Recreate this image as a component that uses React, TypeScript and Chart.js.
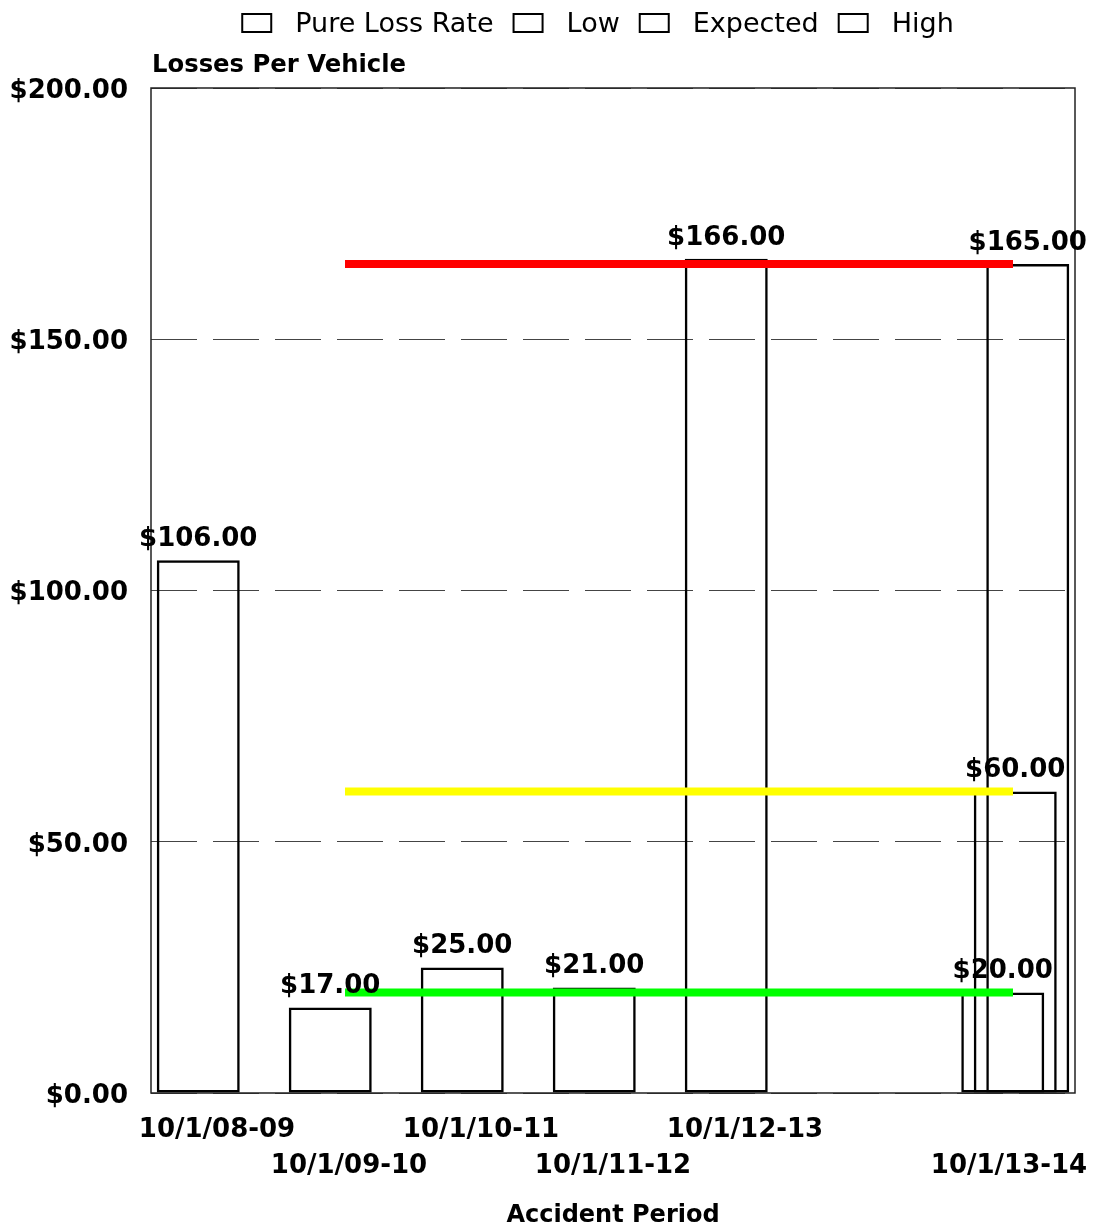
import React, { useEffect, useRef } from 'react';
import { Chart, registerables } from 'chart.js';

Chart.register(...registerables);

// ---- data ----
const categories = ['10/1/08-09', '10/1/09-10', '10/1/10-11', '10/1/11-12', '10/1/12-13', '', '10/1/13-14'];
const pureLossRate = [106, 17, 25, 21, 166, null, null];
const lowValues = [null, null, null, null, null, null, 20];
const expectedValues = [null, null, null, null, null, null, 60];
const highValues = [null, null, null, null, null, null, 165];
const yTickValues = [0, 50, 100, 150, 200];
const referenceFrom = '10/1/09-10';
const referenceTo = '10/1/13-14';
const chartTitle = 'Losses Per Vehicle';
const xTitle = 'Accident Period';

const lastValue = (arr: (number | null)[]) => arr.filter((v) => v !== null).slice(-1)[0] as number;

const money = (v: number) => '$' + v.toFixed(2);

const FONT = "'DejaVu Sans', sans-serif";

const refLine = (label: string, level: number, color: string) => ({
  type: 'line' as const,
  label,
  data: [
    { x: referenceFrom, y: level },
    { x: referenceTo, y: level },
  ],
  borderColor: color,
  backgroundColor: color,
  borderWidth: 8,
  borderCapStyle: 'square' as const,
  pointRadius: 0,
  spanGaps: true,
  order: 0,
});

const barSet = (label: string, data: (number | null)[]) => ({
  type: 'bar' as const,
  label,
  data,
  backgroundColor: 'rgba(0,0,0,0)',
  borderColor: '#000',
  borderWidth: 2.5,
  borderSkipped: false,
  categoryPercentage: 50 / 132,
  barPercentage: 6.64,
  order: 1,
});

const framePlugin = {
  id: 'frame',
  beforeDatasetsDraw(chart: any) {
    const { ctx, chartArea } = chart;
    ctx.save();
    ctx.strokeStyle = '#222';
    ctx.lineWidth = 1.5;
    ctx.strokeRect(chartArea.left, chartArea.top, chartArea.right - chartArea.left, chartArea.bottom - chartArea.top);
    ctx.restore();
  },
};

const labelPlugin = {
  id: 'barLabels',
  afterDatasetsDraw(chart: any) {
    const ctx = chart.ctx;
    ctx.save();
    ctx.font = `bold 26px ${FONT}`;
    ctx.fillStyle = '#000';
    ctx.textAlign = 'center';
    ctx.textBaseline = 'middle';
    chart.data.datasets.forEach((ds: any, di: number) => {
      if (ds.type !== 'bar') return;
      const meta = chart.getDatasetMeta(di);
      ds.data.forEach((v: number | null, i: number) => {
        if (v === null || v === undefined) return;
        const el = meta.data[i];
        ctx.fillText(money(v), el.x, el.y - 21);
      });
    });
    ctx.restore();
  },
};

const headerPlugin = {
  id: 'header',
  afterDraw(chart: any) {
    const { ctx, chartArea } = chart;
    ctx.save();
    // title
    ctx.font = `bold 24.3px ${FONT}`;
    ctx.fillStyle = '#000';
    ctx.textAlign = 'left';
    ctx.textBaseline = 'middle';
    ctx.fillText(chartTitle, chartArea.left + 1, 58);
    // legend
    ctx.font = `27px ${FONT}`;
    const labels = chart.data.datasets.filter((d: any) => d.type === 'bar').map((d: any) => d.label);
    const boxW = 29;
    const boxH = 18;
    const boxGap = 24;
    const itemGap = 20;
    const widths = labels.map((t: string) => ctx.measureText(t).width);
    const total = widths.reduce((a: number, w: number) => a + boxW + boxGap + w, 0) + itemGap * (labels.length - 1);
    const cx = (chartArea.left + chartArea.right) / 2 - 15;
    let x = cx - total / 2;
    const cy = 15;
    ctx.strokeStyle = '#000';
    ctx.lineWidth = 2;
    labels.forEach((t: string, i: number) => {
      ctx.strokeRect(x, cy - boxH / 2, boxW, boxH);
      x += boxW + boxGap;
      ctx.fillText(t, x, cy + 1.5);
      x += widths[i] + itemGap;
    });
    ctx.restore();
  },
};

export default function App() {
  const ref = useRef<HTMLCanvasElement | null>(null);

  useEffect(() => {
    document.documentElement.style.overflow = 'hidden';
    const canvas = ref.current;
    if (!canvas) return;
    const chart = new Chart(canvas, {
      data: {
        labels: categories,
        datasets: [
          barSet('Pure Loss Rate', pureLossRate),
          barSet('Low', lowValues),
          barSet('Expected', expectedValues),
          barSet('High', highValues),
          refLine('Low level', lastValue(lowValues), '#00FF00'),
          refLine('Expected level', lastValue(expectedValues), '#FFFF00'),
          refLine('High level', lastValue(highValues), '#FF0000'),
        ] as any,
      },
      options: {
        responsive: false,
        animation: false,
        layout: { padding: { top: 80, left: 0, right: 12, bottom: 0 } },
        plugins: {
          legend: { display: false },
          title: { display: false },
          tooltip: { enabled: false },
        },
        scales: {
          x: {
            type: 'category',
            offset: true,
            grid: { display: false, drawTicks: false },
            border: { display: false },
            ticks: {
              autoSkip: false,
              maxRotation: 0,
              minRotation: 0,
              padding: 19,
              color: '#000',
              font: { family: FONT, weight: 'bold', size: 26, lineHeight: 36 / 26 },
              callback: function (this: any, value: any, index: number) {
                const label = categories[index];
                if (!label) return '';
                const row = categories.slice(0, index).filter((c) => c !== '').length % 2;
                return row === 0 ? label : ['', label];
              },
            },
            title: {
              display: true,
              text: xTitle,
              color: '#000',
              font: { family: FONT, weight: 'bold', size: 24, lineHeight: 1.2 },
              padding: { top: 0, bottom: 0 },
            },
            afterFit(scale: any) {
              scale.height = 137;
              scale.paddingLeft = 0;
              scale.paddingRight = 0;
            },
          },
          y: {
            min: 0,
            max: 200,
            grid: { color: '#444', lineWidth: 1, drawTicks: false },
            border: { display: false, dash: [46, 16] },
            afterBuildTicks(scale: any) {
              scale.ticks = yTickValues.map((v) => ({ value: v }));
            },
            ticks: {
              padding: 23,
              labelOffset: 3,
              color: '#000',
              font: { family: FONT, weight: 'bold', size: 26 },
              callback: (v: any) => money(Number(v)),
            },
            afterFit(scale: any) {
              scale.width = 143;
              scale.paddingTop = 0;
              scale.paddingBottom = 0;
            },
          },
        },
      } as any,
      plugins: [framePlugin, labelPlugin, headerPlugin],
    });
    return () => chart.destroy();
  }, []);

  return (
    <div style={{ width: 1079, height: 1222, marginBottom: -8 }}>
      <canvas ref={ref} width={1079} height={1222} style={{ display: 'block' }} />
    </div>
  );
}
